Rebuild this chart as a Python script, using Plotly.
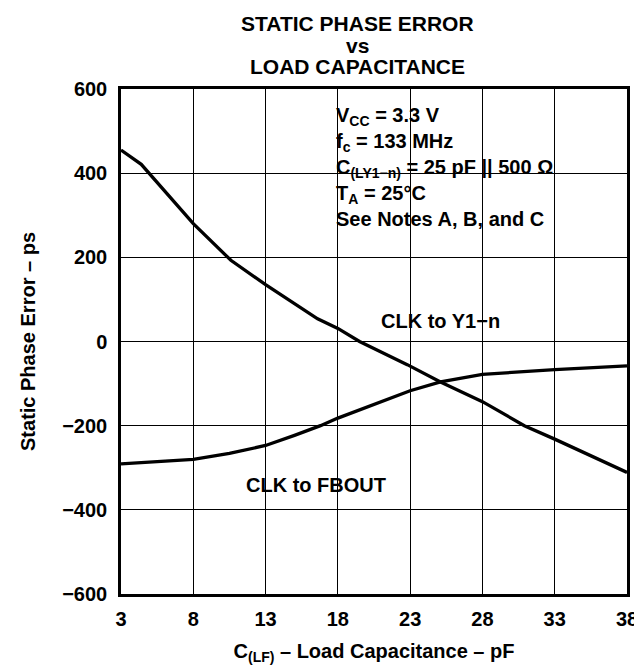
import plotly.graph_objects as go

# Data
cap_y1n = [3, 4.4, 8, 10.6, 13, 16.6, 18, 19.5, 22.8, 25.1, 28, 30.9, 33, 38]
err_y1n = [455, 421, 280, 193, 135, 54, 31, 0, -55, -96, -143, -200, -232, -311]

cap_fbout = [3, 8, 10.5, 13, 15, 16.8, 18, 20.5, 23, 25.1, 28, 33, 38]
err_fbout = [-291, -280, -266, -247, -223, -200, -182, -149, -117, -96, -78, -67, -58]

x_ticks = [3, 8, 13, 18, 23, 28, 33, 38]
y_ticks = [-600, -400, -200, 0, 200, 400, 600]
y_ticktext = ["\u2212600", "\u2212400", "\u2212200", "0", "200", "400", "600"]

title_lines = ["STATIC PHASE ERROR", "vs", "LOAD CAPACITANCE"]
conditions = [
    "V<sub>CC</sub> = 3.3 V",
    "f<sub>c</sub> = 133 MHz",
    "C<sub>(LY1\u2212n)</sub> = 25 pF || 500 \u03a9",
    "T<sub>A</sub> = 25\u00b0C",
    "See Notes A, B, and C",
]

FONT = "Liberation Sans, Arial, Helvetica, sans-serif"

fig = go.Figure()
fig.add_trace(go.Scatter(x=cap_y1n, y=err_y1n, mode="lines",
                         line=dict(color="black", width=3.3), showlegend=False,
                         hoverinfo="skip"))
fig.add_trace(go.Scatter(x=cap_fbout, y=err_fbout, mode="lines",
                         line=dict(color="black", width=3.3), showlegend=False,
                         hoverinfo="skip"))

L, R, T, B = 113, 23, 81, 82
W, H = 642, 668
PW, PH = W - L - R, H - T - B

def px(xp):
    return (xp - L) / PW

def py(yp):
    return (H - B - yp) / PH

# white boxes hiding gridlines behind text
for (x0, x1, y0, y1) in [(313, 602, 88, 230), (362, 503, 297, 332), (228, 395, 462, 496)]:
    fig.add_shape(type="rect", xref="paper", yref="paper",
                  x0=px(x0), x1=px(x1), y0=py(y1), y1=py(y0),
                  fillcolor="white", line=dict(width=0), layer="between")

annotations = []
for txt, yc in zip(title_lines, [15.5, 37.5, 58.5]):
    annotations.append(dict(text=txt, x=px(349), y=py(yc), xref="paper", yref="paper",
                            xanchor="center", yanchor="middle", showarrow=False,
                            font=dict(size=21, family=FONT, color="black", weight="bold")))

annotations.append(dict(text="<br>".join(conditions), x=px(326), y=py(159),
                        xref="paper", yref="paper", xanchor="left", yanchor="middle",
                        align="left", showarrow=False,
                        font=dict(size=20, family=FONT, color="black", weight="bold")))
annotations.append(dict(text="CLK to Y1\u2212n", x=px(432.5), y=py(312.7),
                        xref="paper", yref="paper", xanchor="center", yanchor="middle",
                        showarrow=False,
                        font=dict(size=20, family=FONT, color="black", weight="bold")))
annotations.append(dict(text="CLK to FBOUT", x=px(308.3), y=py(476.7),
                        xref="paper", yref="paper", xanchor="center", yanchor="middle",
                        showarrow=False,
                        font=dict(size=20, family=FONT, color="black", weight="bold")))

axis_common = dict(showline=True, linecolor="black", linewidth=2.5, mirror=True,
                   showgrid=True, gridcolor="black", gridwidth=1, zeroline=False,
                   ticks="", tickfont=dict(size=20, family=FONT, color="black", weight="bold"))

fig.update_layout(
    width=W, height=H,
    margin=dict(l=L, r=R, t=T, b=B, autoexpand=False),
    paper_bgcolor="white", plot_bgcolor="white",
    font=dict(family=FONT, color="black"),
    annotations=annotations,
    xaxis=dict(range=[3, 38], tickvals=x_ticks, ticktext=[str(v) for v in x_ticks],
               ticklabelstandoff=5,
               title=dict(text="C<sub>(LF)</sub> \u2013 Load Capacitance \u2013 pF",
                          font=dict(size=20, family=FONT, color="black", weight="bold"),
                          standoff=16),
               **axis_common),
    yaxis=dict(range=[-600, 600], tickvals=y_ticks, ticktext=y_ticktext,
               ticklabelstandoff=7,
               title=dict(text="Static Phase Error \u2013 ps",
                          font=dict(size=20, family=FONT, color="black", weight="bold"),
                          standoff=22),
               **axis_common),
)

fig.write_html("out.html")
